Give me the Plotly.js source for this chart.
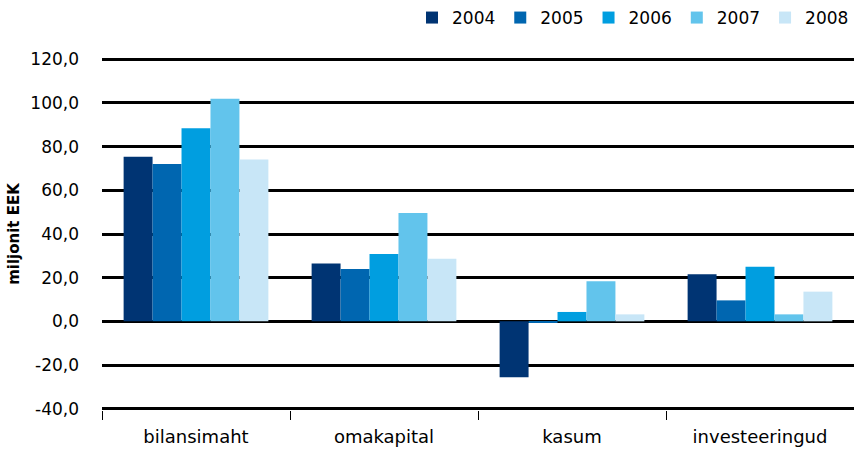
<!DOCTYPE html>
<html>
<head>
<meta charset="utf-8">
<script src="https://cdn.plot.ly/plotly-3.0.1.min.js"></script>
<style>
  body { margin: 0; background: #fff; }
  #graph { width: 854px; height: 455px; }
</style>
</head>
<body>
<div id="graph"></div>
<script>
// kategooriad ja aastad
const categories = ['bilansimaht', 'omakapital', 'kasum', 'investeeringud'];
const years = ['2004', '2005', '2006', '2007', '2008'];

// väärtused (miljonit EEK), loetud pildilt
const v2004 = [75.4, 26.5, -25.6, 21.6];
const v2005 = [72.1, 24.0, -0.5, 9.6];
const v2006 = [88.4, 30.8, 4.3, 25.0];
const v2007 = [101.9, 49.6, 18.4, 3.2];
const v2008 = [74.1, 28.7, 3.2, 13.6];

// y-telje jaotised ja sildid (koma kui kümnendmärk, tavaline sidekriips)
const yTicks = [-40, -20, 0, 20, 40, 60, 80, 100, 120];
const yTickText = ['-40,0', '-20,0', '0,0', '20,0', '40,0', '60,0', '80,0', '100,0', '120,0'];

const colors = ['#003473', '#0066b0', '#009ee0', '#62c4ec', '#c8e6f7'];
const series = [v2004, v2005, v2006, v2007, v2008];

const fontFam = 'DejaVu Sans, sans-serif';

const traces = series.map((vals, i) => ({
    type: 'bar',
    name: years[i],
    x: categories,
    y: vals,
    marker: { color: colors[i], line: { width: 0 } },
    hoverinfo: 'y+name'
}));

const layout = {
    width: 854,
    height: 455,
    margin: { l: 102, r: 0, t: 57.7, b: 44.7 },
    paper_bgcolor: '#fff',
    plot_bgcolor: '#fff',
    font: { family: fontFam, size: 17, color: '#000' },
    barmode: 'group',
    bargap: 0.23,
    bargroupgap: 0,
    showlegend: true,
    legend: {
        orientation: 'h',
        x: 1, xanchor: 'right',
        y: 1, yref: 'container', yanchor: 'top',
        font: { family: fontFam, size: 17 },
        traceorder: 'normal'
    },
    xaxis: {
        type: 'category',
        showgrid: false,
        tickson: 'boundaries',
        ticks: 'outside',
        ticklen: 9,
        tickwidth: 1,
        tickcolor: '#000',
        ticklabelstandoff: 14,
        tickfont: { family: fontFam, size: 18 },
        showline: false,
        zeroline: false
    },
    yaxis: {
        range: [-40.6, 120.6],
        tickmode: 'array',
        tickvals: yTicks,
        ticktext: yTickText,
        showgrid: true,
        gridcolor: '#000',
        gridwidth: 3,
        zeroline: true,
        zerolinecolor: '#000',
        zerolinewidth: 3,
        showline: false,
        ticks: '',
        ticklabelstandoff: 22,
        automargin: true,
        title: { text: 'miljonit EEK', standoff: 7, font: { family: fontFam, size: 15, weight: 'bold' } }
    }
};

Plotly.newPlot('graph', traces, layout, { displayModeBar: false });
</script>
</body>
</html>
